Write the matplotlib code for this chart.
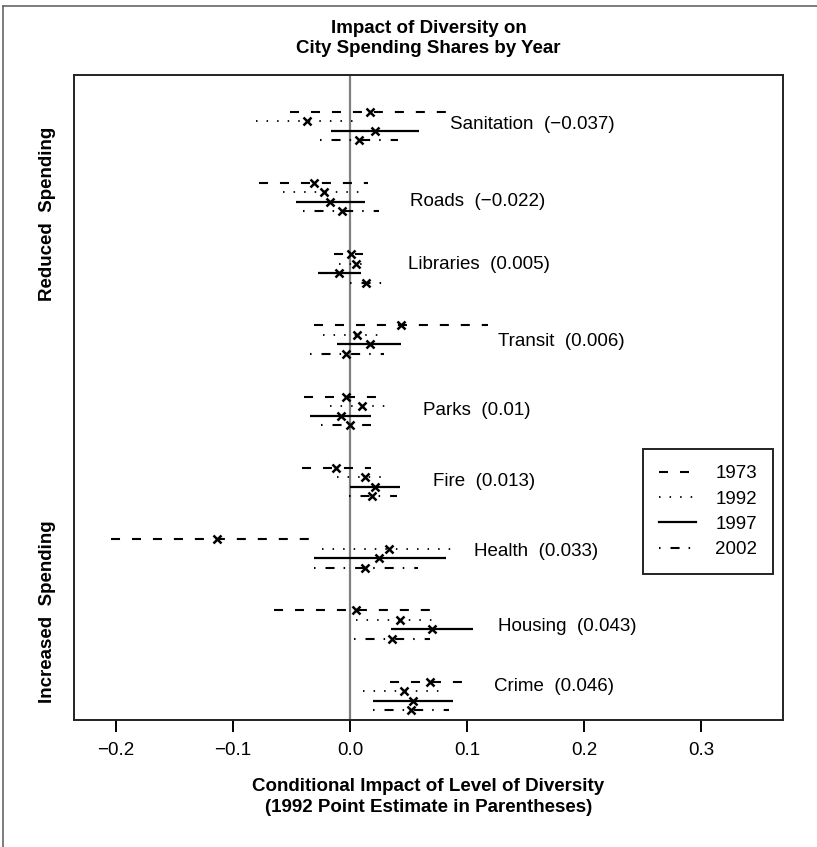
import matplotlib
matplotlib.use('Agg')
import matplotlib.pyplot as plt
from matplotlib.lines import Line2D
from matplotlib import transforms

plt.rcParams['font.family'] = ['Liberation Sans', 'DejaVu Sans']
plt.rcParams['lines.scale_dashes'] = False

categories = ['Sanitation', 'Roads', 'Libraries', 'Transit', 'Parks',
              'Fire', 'Health', 'Housing', 'Crime']
years = ['1973', '1992', '1997', '2002']

# point estimates and interval ends, one set per year (category order as above)
est_1973 = [0.017, -0.031, 0.001, 0.044, -0.003, -0.012, -0.114, 0.005, 0.068]
lo_1973 = [-0.051, -0.078, -0.014, -0.031, -0.039, -0.041, -0.204, -0.065, 0.034]
hi_1973 = [0.084, 0.015, 0.011, 0.118, 0.024, 0.018, -0.032, 0.070, 0.096]

est_1992 = [-0.037, -0.022, 0.005, 0.006, 0.010, 0.013, 0.033, 0.043, 0.046]
lo_1992 = [-0.080, -0.057, -0.009, -0.023, -0.017, -0.011, -0.024, 0.005, 0.011]
hi_1992 = [0.005, 0.011, 0.011, 0.026, 0.031, 0.027, 0.089, 0.073, 0.078]

est_1997 = [0.021, -0.017, -0.009, 0.017, -0.008, 0.021, 0.025, 0.070, 0.054]
lo_1997 = [-0.016, -0.046, -0.027, -0.011, -0.034, 0.000, -0.031, 0.035, 0.020]
hi_1997 = [0.059, 0.013, 0.009, 0.044, 0.018, 0.043, 0.082, 0.105, 0.088]

est_2002 = [0.008, -0.007, 0.014, -0.003, 0.000, 0.019, 0.013, 0.036, 0.052]
lo_2002 = [-0.026, -0.040, 0.000, -0.034, -0.025, -0.001, -0.031, 0.003, 0.020]
hi_2002 = [0.041, 0.025, 0.028, 0.029, 0.018, 0.040, 0.058, 0.068, 0.085]

xticks = [-0.2, -0.1, 0.0, 0.1, 0.2, 0.3]
xtick_labels = ['\u22120.2', '\u22120.1', '0.0', '0.1', '0.2', '0.3']

# where the category labels sit (x in data units, y offset inside the group)
label_x = [0.0855, 0.0513, 0.0496, 0.1262, 0.0627, 0.0707, 0.106, 0.1268, 0.1231]
label_dy = [0.52, 0.79, 0.45, 0.68, 0.58, 0.57, 0.54, 0.67, 0.20]

estimates = [est_1973, est_1992, est_1997, est_2002]
lows = [lo_1973, lo_1992, lo_1997, lo_2002]
highs = [hi_1973, hi_1992, hi_1997, hi_2002]
line_styles = [(0, (6.5, 8.6)), (0, (1.1, 6.5)), 'solid', (0, (1.1, 7.2, 6.5, 6.5))]
line_widths = [1.5, 1.3, 1.6, 1.5]

fig = plt.figure(figsize=(8.17, 8.47), dpi=100)
ax = fig.add_axes([74 / 817, 127 / 847, 709 / 817, 645 / 847])

ax.axvline(0, color='#808080', lw=1.6, zorder=1)

handles = []
for j, year in enumerate(years):
    y = [3 * i + 0.4 * j for i in range(len(categories))]
    ax.hlines(y, lows[j], highs[j], colors='black', linestyles=line_styles[j],
              linewidths=line_widths[j], zorder=2)
    ax.plot(estimates[j], y, 'x', color='black', ms=6, mew=1.8, ls='none', zorder=3)
    handles.append(Line2D([], [], color='black', ls=line_styles[j], lw=line_widths[j]))

for i, cat in enumerate(categories):
    txt = f'{cat}  ({round(est_1992[i], 3)})'.replace('-', '\u2212')
    ax.text(label_x[i], 3 * i + label_dy[i], txt, ha='left', va='center', fontsize=13.5)

ax.set_xlim(-0.2359, 0.3701)
ax.set_ylim(25.62, -1.545)
ax.set_xticks(xticks)
ax.set_xticklabels(xtick_labels)
ax.tick_params(axis='x', direction='out', length=8.6, width=1.4, pad=7, labelsize=13.5)
ax.tick_params(axis='y', left=False, labelleft=False)
for sp in ax.spines.values():
    sp.set_linewidth(1.4)
    sp.set_color('#222222')

leg = ax.legend(handles, years, loc='upper right', bbox_to_anchor=(0.986, 0.420),
                borderaxespad=0, fontsize=13.5, handlelength=2.0, handletextpad=1.0,
                labelspacing=0.44, borderpad=0.85, fancybox=False, framealpha=1)
leg.get_frame().set_edgecolor('#222222')
leg.get_frame().set_linewidth(1.4)

ax.set_xlabel('Conditional Impact of Level of Diversity\n(1992 Point Estimate in Parentheses)',
              fontweight='bold', fontsize=13.5, labelpad=14, linespacing=1.3)

fig.text(428.5 / 817, 1 - 38.5 / 847, 'Impact of Diversity on\nCity Spending Shares by Year',
         ha='center', va='center', fontweight='bold', fontsize=13.5, linespacing=1.3)

side = transforms.blended_transform_factory(ax.transAxes, ax.transData)
ax.text(-0.038, 4.31, 'Reduced  Spending', rotation=90, ha='center', va='center',
        fontweight='bold', fontsize=13.5, transform=side)
ax.text(-0.038, 21.06, 'Increased  Spending', rotation=90, ha='center', va='center',
        fontweight='bold', fontsize=13.5, transform=side)

# outer frame of the original figure (left and top edges only)
fig.add_artist(Line2D([3 / 817, 3 / 817], [0, 1 - 6 / 847], color='#666666', lw=1.2))
fig.add_artist(Line2D([3 / 817, 1], [1 - 6 / 847, 1 - 6 / 847], color='#666666', lw=1.2))

fig.savefig('out.png', dpi=100)
